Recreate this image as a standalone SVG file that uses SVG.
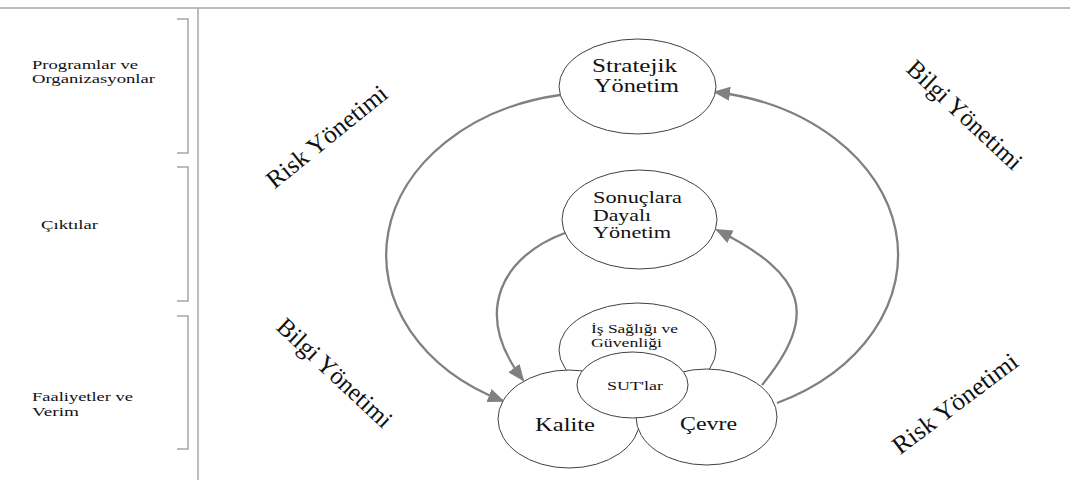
<svg xmlns="http://www.w3.org/2000/svg" width="1070" height="480" viewBox="0 0 1070 480">
<style>
  .frame{stroke:#a6a6a6;stroke-width:1.5;fill:none}
  .br{stroke:#a6a6a6;stroke-width:1.5;fill:none}
  .el{fill:#fff;stroke:#404040;stroke-width:1}
  .t{font-family:"Liberation Serif","Times New Roman",serif;fill:#111}
  .side{font-size:13px}
  .rot{font-size:25px;text-anchor:middle}
  .conn{fill:none;stroke:#808080;stroke-width:2.3}
</style>
<defs>
  <marker id="ah" markerUnits="userSpaceOnUse" markerWidth="18" markerHeight="14" refX="15" refY="7" orient="auto">
    <path d="M0,0 L17,7 L0,14 z" fill="#808080"/>
  </marker>
</defs>
<rect width="1070" height="480" fill="#fff"/>
<g id="frame">
  <line class="frame" x1="0" y1="8" x2="1070" y2="8"/>
  <line class="frame" x1="198" y1="8" x2="198" y2="480"/>
  <path class="br" d="M177,19 H188 V153 H177"/>
  <path class="br" d="M177,167 H188 V301 H177"/>
  <path class="br" d="M177,316 H188 V449 H177"/>
</g>
<g id="side-labels">
  <text class="t side" x="32" y="69" textLength="106" lengthAdjust="spacingAndGlyphs">Programlar ve</text>
  <text class="t side" x="32" y="83" textLength="123" lengthAdjust="spacingAndGlyphs">Organizasyonlar</text>
  <text class="t side" x="41" y="229" textLength="57" lengthAdjust="spacingAndGlyphs">Çıktılar</text>
  <text class="t side" x="32" y="401" textLength="101" lengthAdjust="spacingAndGlyphs">Faaliyetler ve</text>
  <text class="t side" x="32" y="416" textLength="47" lengthAdjust="spacingAndGlyphs">Verim</text>
</g>
<g id="connectors">
  <path class="conn" d="M560,95 A212,163 0 0,0 503,401" marker-end="url(#ah)"/>
  <path class="conn" d="M565,233 C505,255 470,310 523,380" marker-end="url(#ah)"/>
  <path class="conn" d="M777,403 A217,165 0 0,0 715,92" marker-end="url(#ah)"/>
  <path class="conn" d="M762,385 C819,315 807,275 717,230" marker-end="url(#ah)"/>
</g>
<g id="n-stratejik">
  <ellipse class="el" cx="637.5" cy="86.5" rx="78.5" ry="47.5"/>
  <text class="t" x="592" y="72" font-size="19" textLength="85" lengthAdjust="spacingAndGlyphs">Stratejik</text>
  <text class="t" x="594" y="92" font-size="19" textLength="85" lengthAdjust="spacingAndGlyphs">Yönetim</text>
</g>
<g id="n-sonuclara">
  <ellipse class="el" cx="639.5" cy="219.5" rx="77.5" ry="49.5"/>
  <text class="t" x="593" y="203" font-size="17" textLength="89" lengthAdjust="spacingAndGlyphs">Sonuçlara</text>
  <text class="t" x="593" y="221" font-size="17" textLength="58" lengthAdjust="spacingAndGlyphs">Dayalı</text>
  <text class="t" x="593" y="238" font-size="17" textLength="78" lengthAdjust="spacingAndGlyphs">Yönetim</text>
</g>
<g id="n-isg">
  <ellipse class="el" cx="637.5" cy="350" rx="78.5" ry="47"/>
  <text class="t" x="591" y="333" font-size="13" textLength="87" lengthAdjust="spacingAndGlyphs">İş Sağlığı ve</text>
  <text class="t" x="591" y="347" font-size="13" textLength="71" lengthAdjust="spacingAndGlyphs">Güvenliği</text>
</g>
<g id="n-kalite">
  <ellipse class="el" cx="569" cy="419" rx="71" ry="49"/>
  <text class="t" x="535" y="431" font-size="18" textLength="60" lengthAdjust="spacingAndGlyphs">Kalite</text>
</g>
<g id="n-cevre">
  <ellipse class="el" cx="706.5" cy="417" rx="70.5" ry="48"/>
  <text class="t" x="680" y="430" font-size="18" textLength="57" lengthAdjust="spacingAndGlyphs">Çevre</text>
</g>
<g id="n-sut">
  <ellipse class="el" cx="632.5" cy="385" rx="55.5" ry="33"/>
  <text class="t" x="607" y="390" font-size="13" textLength="56" lengthAdjust="spacingAndGlyphs">SUT'lar</text>
</g>
<g id="rotated-labels">
  <text class="t rot" transform="translate(332,143) rotate(-39)" textLength="148" lengthAdjust="spacingAndGlyphs">Risk Yönetimi</text>
  <text class="t rot" transform="translate(959,121) rotate(43)" textLength="148" lengthAdjust="spacingAndGlyphs">Bilgi Yönetimi</text>
  <text class="t rot" transform="translate(329,379) rotate(43)" textLength="148" lengthAdjust="spacingAndGlyphs">Bilgi Yönetimi</text>
  <text class="t rot" transform="translate(960,410) rotate(-37)" textLength="150" lengthAdjust="spacingAndGlyphs">Risk Yönetimi</text>
</g>
</svg>
